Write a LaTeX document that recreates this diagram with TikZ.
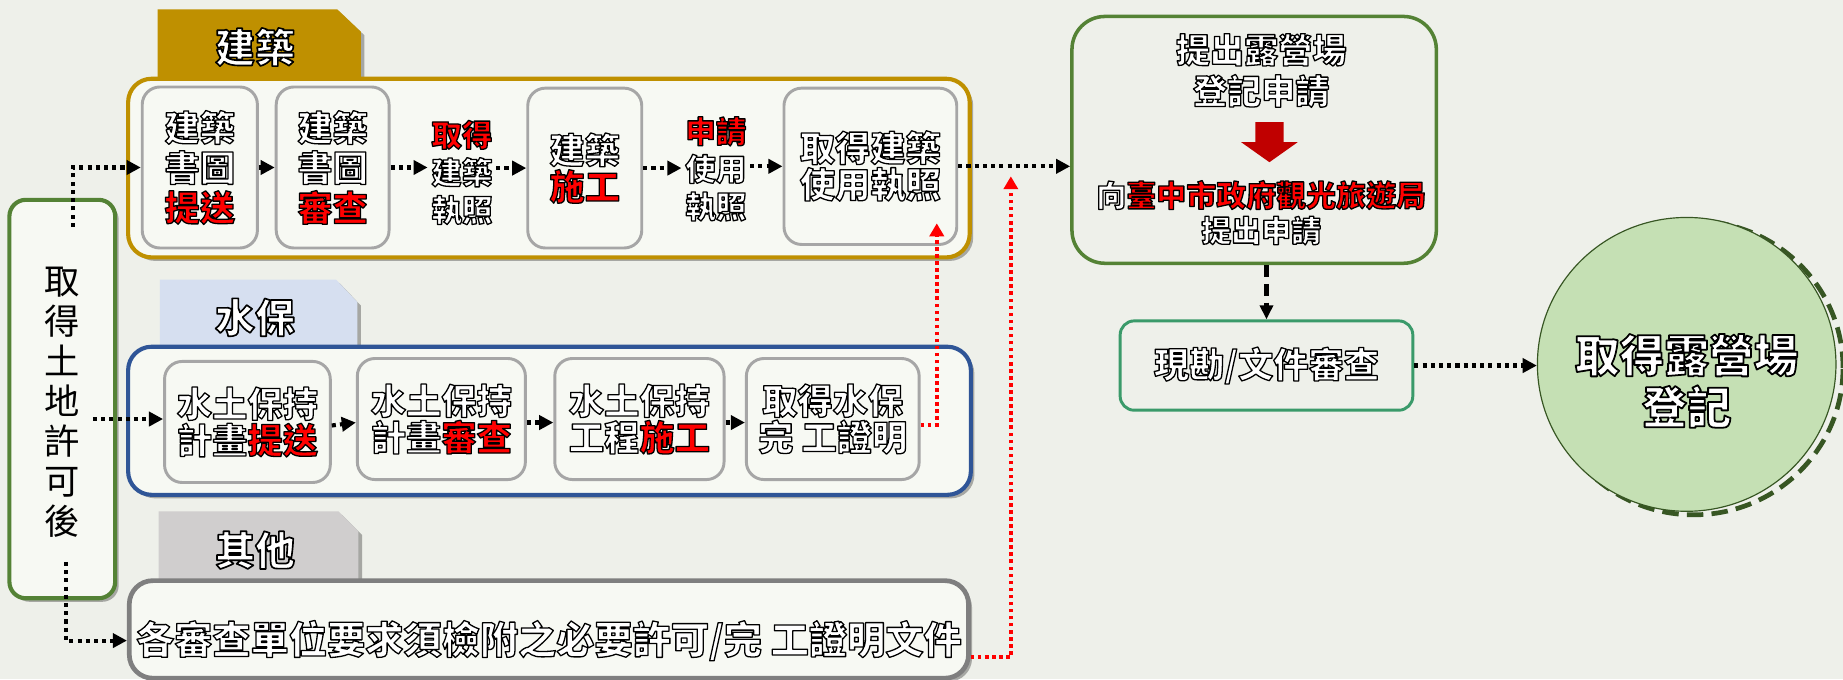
\documentclass[tikz,border=0pt]{standalone}
\usepackage{fontspec}
\setmainfont{Noto Sans CJK TC}
\newfontfamily\heavy{Noto Sans CJK TC Black}
\usetikzlibrary{arrows.meta,shadows,shapes.geometric}
\definecolor{bgc}{HTML}{EEF0EA}
\definecolor{boxf}{HTML}{F7F9F3}
\definecolor{goldc}{HTML}{BF9000}
\definecolor{bluec}{HTML}{2F5597}
\definecolor{ltblue}{HTML}{D6DFF0}
\definecolor{greytab}{HTML}{D0CECE}
\definecolor{greyb}{HTML}{7F7F7F}
\definecolor{innerc}{HTML}{A6A6A6}
\definecolor{greenc}{HTML}{548235}
\definecolor{tealc}{HTML}{3A9A6A}
\definecolor{ellf}{HTML}{C5E0B4}
\definecolor{elld}{HTML}{375623}
\definecolor{darkred}{HTML}{C00000}
% white/red text with a black outline, drawn once (fill + stroke, round joins)
\newcommand\glow[3]{\textcolor{#1}{\special{pdf:literal direct 0 0 0 RG 1 j 1 J 2 Tr #2 w}#3\special{pdf:literal direct 0 Tr}}}
\newcommand\W[2][1.1]{\glow{white}{#1}{#2}}
\newcommand\RD[2][1.1]{\glow{red}{#1}{#2}}
\tikzset{
  shd/.style={drop shadow={shadow xshift=3pt,shadow yshift=-3pt,opacity=.3,fill=black}},
  grp/.style={shd,rounded corners=20pt,fill=boxf,line width=3.5pt,inner sep=0pt},
  stepbox/.style={draw=innerc,line width=2.5pt,rounded corners=15pt,fill=boxf,inner sep=0pt,align=center},
  fa/.style={font=\heavy\fontsize{30}{34}\selectfont},
  fb/.style={font=\heavy\fontsize{26}{32}\selectfont},
  fc/.style={font=\heavy\fontsize{30}{31}\selectfont},
  ftab/.style={font=\heavy\fontsize{34}{36}\selectfont},
  plain/.style={inner sep=3pt,align=center},
  flow/.style={line width=3.5pt,dash pattern=on 3.5pt off 3.5pt,-{Triangle[length=12pt,width=12pt]}},
  redflow/.style={flow,draw=red,line width=3pt,dash pattern=on 3pt off 3pt,-{Triangle[length=11pt,width=12pt,fill=red]}},
}
\begin{document}
\begin{tikzpicture}[x=1pt,y=-1pt]
\useasboundingbox (0,0) rectangle (1568,578);
\fill[bgc] (0,0) rectangle (1568,578);
% tabs
\fill[goldc,shd] (134,75) -- (134,8) -- (287,8) -- (307,27) -- (307,75) -- cycle;
\fill[ltblue,shd] (136,300) -- (136,238) -- (286,238) -- (304,257) -- (304,300) -- cycle;
\fill[greytab,shd] (135,500) -- (135,435) -- (288,435) -- (305,452) -- (305,500) -- cycle;
\node[ftab,plain] (tabB) at (217,40) {\W[1.4]{建築}};
\node[ftab,plain] (tabW) at (217,270) {\W[1.4]{水保}};
\node[ftab,plain] (tabO) at (217,468) {\W[1.4]{其他}};
% group boxes
\node[grp,draw=goldc,minimum width=716pt,minimum height=152pt] (gB) at (467,143) {};
\node[grp,draw=bluec,minimum width=717pt,minimum height=126pt] (gW) at (467.5,358) {};
\node[grp,draw=greyb,line width=4pt,minimum width=714pt,minimum height=83pt] (ob) at (467,535.5) {};
% left box
\node[shd,draw=greenc,line width=3.5pt,rounded corners=14pt,fill=boxf,minimum width=90pt,minimum height=339pt,inner sep=0pt] (lb) at (53,339.5) {};
\node[plain,font=\fontsize{30}{34}\selectfont] (lbt) at (53,342) {取\\得\\土\\地\\許\\可\\後};
% building steps
\node[stepbox,fa,minimum width=98pt,minimum height=137pt] (b1) at (170,142.5) {\W{建築}\\\W{書圖}\\\RD{提送}};
\node[stepbox,fa,minimum width=96pt,minimum height=137pt] (b2) at (283,142.5) {\W{建築}\\\W{書圖}\\\RD{審查}};
\node[plain,fb] (t3) at (393,147) {\RD{取得}\\\W{建築}\\\W{執照}};
\node[stepbox,fc,minimum width=97pt,minimum height=136pt] (b3) at (497.5,143) {\W{建築}\\\RD{施工}};
\node[plain,fb] (t4) at (609,144) {\RD{申請}\\\W{使用}\\\W{執照}};
\node[stepbox,fc,minimum width=147pt,minimum height=133pt] (b4) at (740.5,141.5) {\W{取得建築}\\\W{使用執照}};
% water steps
\node[stepbox,fc,minimum width=141pt,minimum height=103pt] (wb1) at (210.5,359) {\W{水土保持}\\\W{計畫}\RD{提送}};
\node[stepbox,fc,minimum width=143pt,minimum height=103pt] (wb2) at (375.5,356.5) {\W{水土保持}\\\W{計畫}\RD{審查}};
\node[stepbox,fc,minimum width=144pt,minimum height=103pt] (wb3) at (544,356.5) {\W{水土保持}\\\W{工程}\RD{施工}};
\node[stepbox,fc,minimum width=147pt,minimum height=103pt] (wb4) at (708.5,356.5) {\W{取得水保}\\\W{完 工證明}};
% other text
\node[plain,font=\heavy\fontsize{32.5}{34}\selectfont] (otx) at (467,545) {\W{各審查單位要求須檢附之必要許可/完 工證明文件}};
% right side
\node[draw=greenc,line width=3pt,rounded corners=28pt,fill=bgc,minimum width=310pt,minimum height=210pt,inner sep=0pt] (rb) at (1067,119) {};
\node[plain,font=\heavy\fontsize{29}{35}\selectfont] (rt1) at (1073,60) {\W{提出露營場}\\\W{登記申請}};
\fill[darkred] (1068,104) -- (1092,104) -- (1092,121) -- (1104,121) -- (1080,138) -- (1056,121) -- (1068,121) -- cycle;
\node[plain,font=\heavy\fontsize{25.5}{30}\selectfont] (rt2) at (1073,181) {\W{向}\RD{臺中市政府觀光旅遊局}\\\W{提出申請}};
\node[draw=tealc,line width=2.5pt,rounded corners=12pt,fill=bgc,minimum width=249pt,minimum height=76pt,inner sep=0pt,fc] (hk) at (1077.5,311) {\W{現勘/文件審查}};
\node[ellipse,draw=elld,line width=4pt,dash pattern=on 14pt off 7pt,minimum width=254pt,minimum height=250pt,inner sep=0pt] (elsh) at (1441,313) {};
\node[ellipse,draw=elld,line width=1pt,fill=ellf,minimum width=254pt,minimum height=250pt,inner sep=0pt] (el) at (1435,310) {};
\node[plain,font=\heavy\fontsize{38}{44}\selectfont] (elt) at (1435,324) {\W[1.5]{取得露營場}\\\W[1.5]{登記}};
% connectors
\coordinate (g1) at (62,193);
\draw[flow] (g1) |- (b1.west);
\draw[flow] (b1.east) -- (b2.west);
\draw[flow] (b2.east) -- (b2.east -| t3.west);
\draw[flow] (t3.east |- b3.west) -- (b3.west);
\draw[flow] (b3.east) -- (b3.east -| t4.west);
\draw[flow] (t4.east |- b4.west) -- (b4.west);
\draw[flow] (b4.east) -- (b4.east -| rb.west);
\coordinate (g2) at (79,356.5);
\draw[flow] (g2) -- (g2 -| wb1.west);
\draw[flow] ([yshift=-3pt]wb1.east) -- ([yshift=-3pt]wb2.west);
\draw[flow] ([yshift=-3pt]wb2.east) -- ([yshift=-3pt]wb3.west);
\draw[flow] ([yshift=-3pt]wb3.east) -- ([yshift=-3pt]wb4.west);
\coordinate (g3) at (56,478);
\draw[flow] (g3) |- (ob.west |- otx);
\coordinate (r1) at (797,190);
\draw[redflow] ([yshift=-5pt]wb4.east) -| (r1);
\coordinate (r2) at (860,150);
\draw[redflow] ([yshift=-23.5pt]ob.east) -| (r2);
\draw[line width=3.5pt,dash pattern=on 10pt off 6pt,-{Triangle[length=12pt,width=11pt]}] (hk.north |- rb.south) -- (hk.north);
\draw[flow] (hk.east) -- (hk.east -| el.west);
\end{tikzpicture}
\end{document}
